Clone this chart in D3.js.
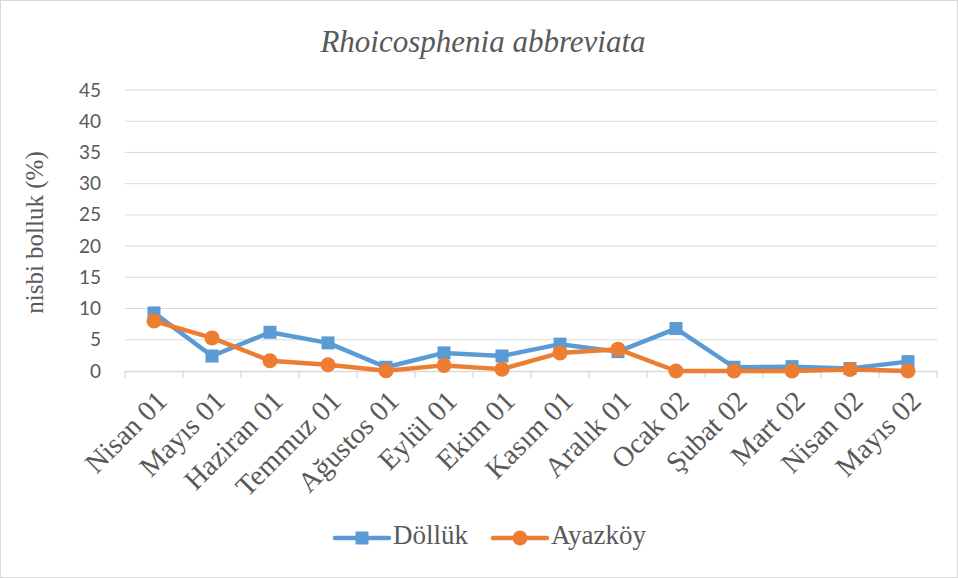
<!DOCTYPE html>
<html><head><meta charset="utf-8">
<script src="https://cdn.jsdelivr.net/npm/d3@7"></script>
<style>
body{margin:0;background:#fff}svg{display:block}
.serif{font-family:"Liberation Serif","Tinos","DejaVu Serif",serif}
.sans{font-family:"Lato","Open Sans",sans-serif}
</style>
</head><body>
<svg id="c" width="958" height="578"></svg>
<script>
const categories = ["Nisan 01","Mayıs 01","Haziran 01","Temmuz 01","Ağustos 01","Eylül 01","Ekim 01","Kasım 01","Aralık 01","Ocak 02","Şubat 02","Mart 02","Nisan 02","Mayıs 02"];
const dollukValues = [9.3,2.4,6.2,4.5,0.6,2.9,2.4,4.3,3.1,6.8,0.6,0.7,0.4,1.5];
const ayazkoyValues = [8.0,5.3,1.65,1.0,0.05,0.9,0.3,2.9,3.5,0.0,0.0,0.0,0.25,0.0];
const yTicks = [0,5,10,15,20,25,30,35,40,45];
const seriesNames = ["Döllük","Ayazköy"];
const title = "Rhoicosphenia abbreviata";
const yTitle = "nisbi bolluk (%)";

const svg = d3.select("#c");
svg.append("rect").attr("x",0.5).attr("y",0.5).attr("width",957).attr("height",577)
  .attr("fill","#fff").attr("stroke","#d9d9d9");

const L=125, R=937, T=90, B=371;
const x = d3.scaleBand().domain(categories).range([L,R]);
const y = d3.scaleLinear().domain([0,45]).range([B,T]);

// gridlines
svg.append("g").selectAll("line").data(yTicks.filter(d=>d>0)).join("line")
  .attr("x1",L).attr("x2",R).attr("y1",d=>y(d)).attr("y2",d=>y(d))
  .attr("stroke","#d9d9d9").attr("stroke-width",1);

// y axis labels
const ya = svg.append("g").attr("transform",`translate(${L},0)`)
  .call(d3.axisLeft(y).tickValues(yTicks).tickSize(0).tickPadding(24));
ya.select(".domain").remove();
ya.attr("font-family",null);
ya.selectAll("text").attr("class","sans").attr("font-size",19).attr("fill","#595959");

// x axis
const xa = svg.append("g").attr("transform",`translate(0,${B})`)
  .call(d3.axisBottom(x).tickSizeOuter(0).tickSize(0));
xa.select(".domain").attr("stroke","#d9d9d9").attr("stroke-width",1.3);
xa.selectAll("text").remove();
const edges = categories.map(c=>x(c)).concat([R]);
svg.append("g").selectAll("line").data(edges).join("line")
  .attr("x1",d=>d).attr("x2",d=>d).attr("y1",B).attr("y2",B+7)
  .attr("stroke","#d9d9d9").attr("stroke-width",1.3);
svg.append("g").selectAll("text").data(categories).join("text")
  .attr("class","serif")
  .attr("transform",d=>`translate(${x(d)+x.bandwidth()/2+10},${B+27}) rotate(-45)`)
  .attr("text-anchor","end").attr("dominant-baseline","middle")
  .attr("font-size",28.5).attr("fill","#595959")
  .text(d=>d);

// lines
const cx = d=>x(d)+x.bandwidth()/2;
const line = d3.line().x((v,i)=>cx(categories[i])).y(v=>y(v));
svg.append("path").datum(dollukValues).attr("d",line).attr("fill","none")
  .attr("stroke","#5b9bd5").attr("stroke-width",4.5).attr("stroke-linejoin","round");
svg.append("g").selectAll("rect").data(dollukValues).join("rect")
  .attr("x",(v,i)=>cx(categories[i])-6.5).attr("y",v=>y(v)-6.5)
  .attr("width",13).attr("height",13).attr("fill","#5b9bd5");
svg.append("path").datum(ayazkoyValues).attr("d",line).attr("fill","none")
  .attr("stroke","#ed7d31").attr("stroke-width",4.5).attr("stroke-linejoin","round");
svg.append("g").selectAll("circle").data(ayazkoyValues).join("circle")
  .attr("cx",(v,i)=>cx(categories[i])).attr("cy",v=>y(v)).attr("r",7.5).attr("fill","#ed7d31");

// title
svg.append("text").attr("class","serif").attr("x",483).attr("y",52).attr("text-anchor","middle")
  .attr("font-style","italic").attr("font-size",31).attr("fill","#595959")
  .text(title);
// y title
svg.append("text").attr("class","serif").attr("transform",`translate(43,${(T+B)/2+2}) rotate(-90)`).attr("text-anchor","middle")
  .attr("font-size",25).attr("fill","#595959").text(yTitle);

// legend
const lg = svg.append("g");
const legItems = [{name:seriesNames[0],x0:335,color:"#5b9bd5",shape:"rect"},{name:seriesNames[1],x0:493,color:"#ed7d31",shape:"circle"}];
legItems.forEach(it=>{
  lg.append("line").attr("x1",it.x0).attr("x2",it.x0+54).attr("y1",538).attr("y2",538)
    .attr("stroke",it.color).attr("stroke-width",4.5).attr("stroke-linecap","round");
  if(it.shape==="rect") lg.append("rect").attr("x",it.x0+20.5).attr("y",531.5).attr("width",13).attr("height",13).attr("fill",it.color);
  else lg.append("circle").attr("cx",it.x0+27).attr("cy",538).attr("r",7.5).attr("fill",it.color);
  lg.append("text").attr("class","serif").attr("x",it.x0+58).attr("y",538).attr("dominant-baseline","middle")
    .attr("font-size",27).attr("fill","#595959").text(it.name);
});
</script>
</body></html>
